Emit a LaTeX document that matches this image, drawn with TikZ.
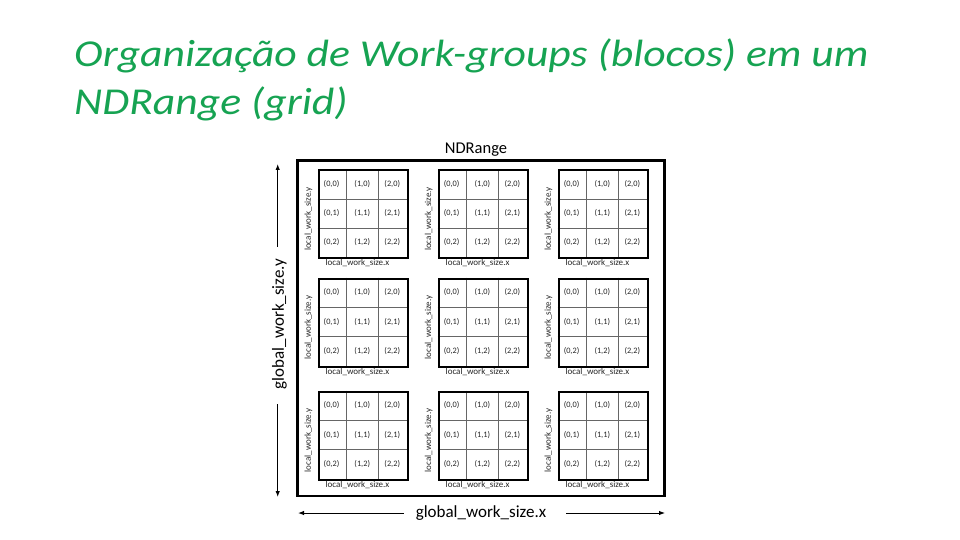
\documentclass[tikz,border=0pt]{standalone}
\usepackage{fontspec}
\setmainfont{Carlito}
\usetikzlibrary{arrows.meta}
\definecolor{titlegreen}{RGB}{22,163,82}
\newcommand{\stretchtitle}[1]{\scalebox{1.15}[1]{#1}}
\begin{document}
\begin{tikzpicture}[x=1pt,y=-1pt,
  titletext/.style={font=\fontsize{38}{46}\selectfont\itshape, text=titlegreen, anchor=base west, inner sep=0},
  blockbox/.style={draw, line width=2.2pt, minimum width=89pt, minimum height=88pt, inner sep=0, anchor=north west},
  celltext/.style={font=\fontsize{8.3}{10}\selectfont, inner sep=0, text=black!85},
  lwy/.style={font=\fontsize{9}{11}\selectfont, rotate=90, inner sep=0, text=black!85},
  lwx/.style={font=\fontsize{9}{11}\selectfont, inner sep=0, text=black!85},
  gws/.style={font=\fontsize{17}{20}\selectfont, inner sep=0},
  arr/.style={-{Latex[length=6pt,width=4.5pt]}, line width=1pt},
  gridline/.style={line width=0.8pt, black!60}
]
\useasboundingbox (0,0) rectangle (960,540);
\node[titletext] (t1) at (74,67) {\stretchtitle{Organização de Work-groups (blocos) em um}};
\node[titletext] (t2) at (74,115) {\stretchtitle{NDRange (grid)}};
\node[font=\fontsize{16.5}{19}\selectfont, inner sep=0] (ndlabel) at (476,150) {NDRange};
\node[draw, line width=2.4pt, minimum width=367pt, minimum height=335.5pt, inner sep=0] (ndr) at (481,328.25) {};
\foreach \i/\bx in {0/317.5,1/437.6,2/557.5}{
  \foreach \j/\by in {0/169,1/277.5,2/390.5}{
    \draw[gridline] (\bx+29,\by) -- (\bx+29,\by+88);
    \draw[gridline] (\bx+60.5,\by) -- (\bx+60.5,\by+88);
    \draw[gridline] (\bx,\by+30) -- (\bx+89,\by+30);
    \draw[gridline] (\bx,\by+59) -- (\bx+89,\by+59);
    \node[blockbox] (blk\i\j) at (\bx,\by) {};
    \foreach \c/\cx in {0/14,1/44.75,2/74.75}{
      \foreach \r/\ry in {0/15,1/44.5,2/73.5}{
        \node[celltext] (c\i\j\c\r) at (\bx+\cx,\by+\ry) {(\c,\r)};
      }
    }
    \node[lwy] (ly\i\j) at (\bx-9,\by+50) {local\_work\_size.y};
    \node[lwx] (lx\i\j) at (\bx+40,\by+94) {local\_work\_size.x};
  }
}
\node[gws] (gx) at (481,513) {global\_work\_size.x};
\coordinate (gxl) at (298,513);
\coordinate (gxr) at (665,513);
\draw[arr, shorten <=12pt] (gx.west) -- (gxl);
\draw[arr, shorten <=20pt] (gx.east) -- (gxr);
\node[gws, rotate=90] (gy) at (279.5,324) {global\_work\_size.y};
\coordinate (gyt) at (277.7,164);
\coordinate (gyb) at (277.7,497);
\draw[arr, shorten <=12pt] (gy.east -| gyt) -- (gyt);
\draw[arr, shorten <=15pt] (gy.west -| gyb) -- (gyb);
\end{tikzpicture}
\end{document}
